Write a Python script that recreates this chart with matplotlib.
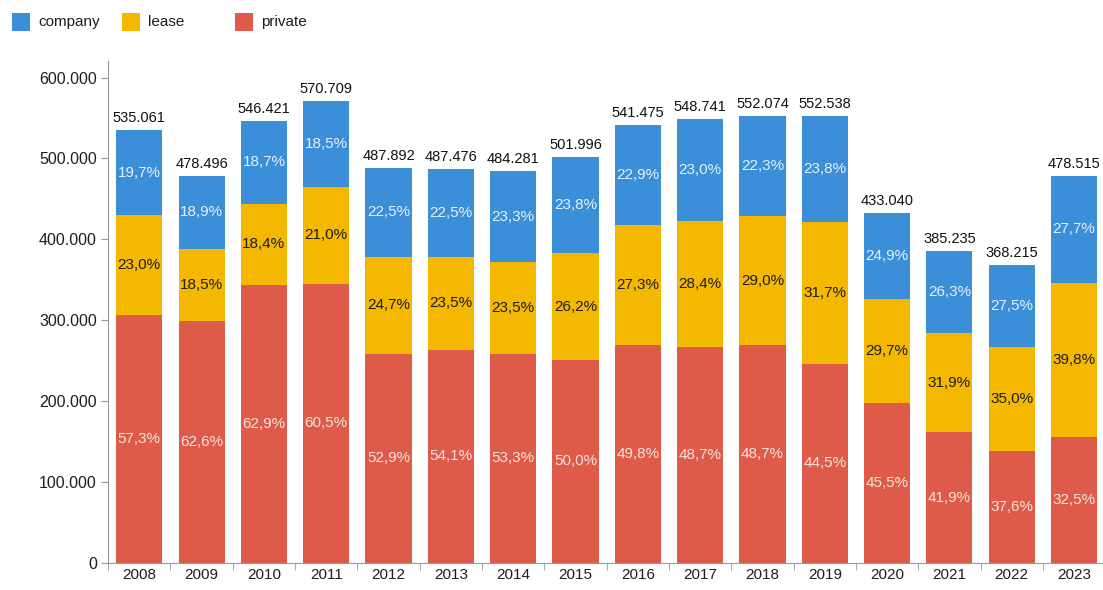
import matplotlib
matplotlib.use('Agg')
import matplotlib.pyplot as plt
from matplotlib.patches import Rectangle
import numpy as np

plt.rcParams['font.family'] = ['Liberation Sans', 'DejaVu Sans']

years = ['2008', '2009', '2010', '2011', '2012', '2013', '2014', '2015',
         '2016', '2017', '2018', '2019', '2020', '2021', '2022', '2023']
totals = [535061, 478496, 546421, 570709, 487892, 487476, 484281, 501996,
          541475, 548741, 552074, 552538, 433040, 385235, 368215, 478515]
company_pct = [19.7, 18.9, 18.7, 18.5, 22.5, 22.5, 23.3, 23.8,
               22.9, 23.0, 22.3, 23.8, 24.9, 26.3, 27.5, 27.7]
lease_pct = [23.0, 18.5, 18.4, 21.0, 24.7, 23.5, 23.5, 26.2,
             27.3, 28.4, 29.0, 31.7, 29.7, 31.9, 35.0, 39.8]
private_pct = [57.3, 62.6, 62.9, 60.5, 52.9, 54.1, 53.3, 50.0,
               49.8, 48.7, 48.7, 44.5, 45.5, 41.9, 37.6, 32.5]
series = ['company', 'lease', 'private']

c_blue = '#3a8fd8'
c_yellow = '#f5b800'
c_red = '#dd5b48'

tot = np.array(totals, dtype=float)
priv = tot * np.array(private_pct) / 100
lease = tot * np.array(lease_pct) / 100
comp = tot - priv - lease

W, H = 1103, 590
fig = plt.figure(figsize=(W / 100.0, H / 100.0), dpi=100)
ax = fig.add_axes([0.098, 0.046, 0.904, 0.850])
x = np.arange(len(years))
w = 0.74

ax.bar(x, priv, w, color=c_red, linewidth=0)
ax.bar(x, lease, w, bottom=priv, color=c_yellow, linewidth=0)
ax.bar(x, comp, w, bottom=priv + lease, color=c_blue, linewidth=0)

def fmt(v):
  return '{:,.0f}'.format(v).replace(',', '.')

def pct(v):
  return '{:.1f}%'.format(v).replace('.', ',')

for i in range(len(years)):
  ax.text(x[i], priv[i] / 2, pct(private_pct[i]), ha='center', va='center',
          fontsize=11, color='#f7e4df')
  ax.text(x[i], priv[i] + lease[i] / 2, pct(lease_pct[i]), ha='center', va='center',
          fontsize=11, color='#1e1e1e')
  ax.text(x[i], priv[i] + lease[i] + comp[i] / 2, pct(company_pct[i]), ha='center',
          va='center', fontsize=11, color='#e6f0fb')
  ax.text(x[i], tot[i] + 6000, fmt(tot[i]), ha='center', va='bottom',
          fontsize=10.5, color='#111111')

ax.set_xlim(-0.5, len(years) - 0.5)
ax.set_ylim(0, 620000)
yt = np.arange(0, 600001, 100000)
ax.set_yticks(yt)
ax.set_yticklabels([fmt(v) for v in yt], fontsize=11.5, color='#1e1e1e')
ax.set_xticks(x)
ax.set_xticklabels(years, fontsize=11, color='#1e1e1e')
ax.tick_params(axis='x', length=0, pad=4)
ax.set_xticks(np.arange(-0.5, len(years), 1.0), minor=True)
ax.tick_params(axis='x', which='minor', length=5, color='#999999')
ax.tick_params(axis='y', length=5, color='#999999', pad=3)

for s in ['top', 'right']:
  ax.spines[s].set_visible(False)
for s in ['left', 'bottom']:
  ax.spines[s].set_color('#999999')

# legend drawn by hand, in pixel positions from the top left
leg_x = [12, 122, 235]
for name, col, lx in zip(series, [c_blue, c_yellow, c_red], leg_x):
  fig.add_artist(Rectangle((lx / W, 1 - 31.0 / H), 18.0 / W, 18.0 / H,
                           transform=fig.transFigure, color=col, linewidth=0))
  fig.text((lx + 26) / W, 1 - 22.0 / H, name, ha='left', va='center',
           fontsize=11, color='#1e1e1e')

fig.savefig('out.png', dpi=100)
